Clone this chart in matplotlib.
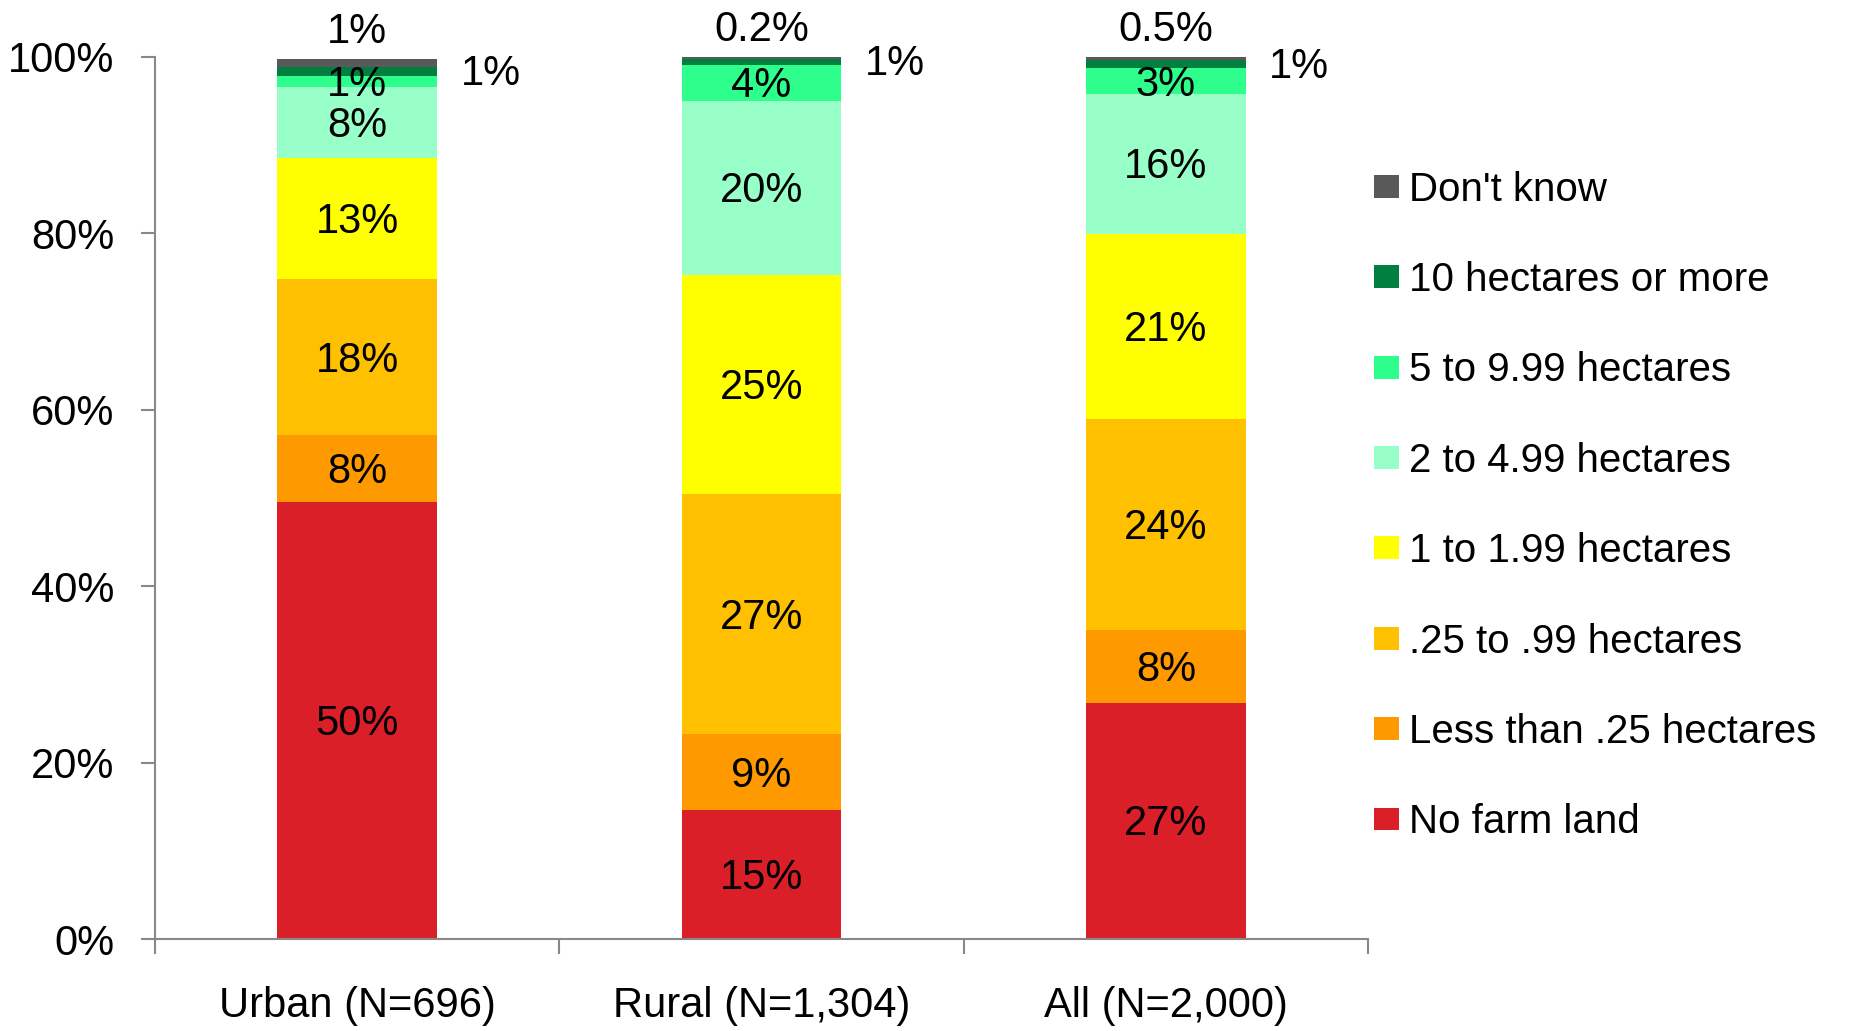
import numpy as np
import matplotlib.pyplot as plt

plt.rcParams['font.family'] = ['Liberation Sans', 'DejaVu Sans']

# groups on the x axis
groups = ['Urban (N=696)', 'Rural (N=1,304)', 'All (N=2,000)']

# series, bottom to top of each bar
series_names = ['No farm land', 'Less than .25 hectares', '.25 to .99 hectares',
                '1 to 1.99 hectares', '2 to 4.99 hectares', '5 to 9.99 hectares',
                '10 hectares or more', "Don't know"]
series_colors = ['#DA1F28', '#FF9900', '#FFC000', '#FFFF00',
                 '#99FFC8', '#2EFF8C', '#007F3F', '#595959']

# values (percent)
no_farm = [49.5, 14.6, 26.8]
lt_025 = [7.6, 8.6, 8.2]
ha_025_099 = [17.7, 27.2, 24.0]
ha_1_199 = [13.7, 24.9, 20.9]
ha_2_499 = [8.1, 19.7, 15.9]
ha_5_999 = [1.2, 4.1, 2.9]
ha_10_more = [1.1, 0.7, 0.9]
dont_know = [0.9, 0.2, 0.4]

# printed labels
lab_no_farm = ['50%', '15%', '27%']
lab_lt_025 = ['8%', '9%', '8%']
lab_025_099 = ['18%', '27%', '24%']
lab_1_199 = ['13%', '25%', '21%']
lab_2_499 = ['8%', '20%', '16%']
lab_5_999 = ['1%', '4%', '3%']
lab_10_more = ['1%', '1%', '1%']
lab_dont_know = ['1%', '0.2%', '0.5%']

values = [no_farm, lt_025, ha_025_099, ha_1_199, ha_2_499, ha_5_999, ha_10_more, dont_know]
labels = [lab_no_farm, lab_lt_025, lab_025_099, lab_1_199, lab_2_499, lab_5_999,
          lab_10_more, lab_dont_know]

fig = plt.figure(figsize=(18.54, 10.31), dpi=100)
ax = fig.add_axes([0.0836, 0.0892, 0.6543, 0.8557])

x = np.arange(len(groups))
width = 0.395
bottom = np.zeros(len(groups))
handles = []
for i, (vals, name, col) in enumerate(zip(values, series_names, series_colors)):
    vals = np.array(vals) / 100
    bars = ax.bar(x, vals, width, bottom=bottom, color=col, label=name, zorder=2)
    handles.append(bars)
    for j in range(len(groups)):
        cy = bottom[j] + vals[j] / 2
        if i == 6:
            # 10 hectares or more: label to the right of the bar
            ax.annotate(labels[i][j], (x[j] + width / 2, cy), xytext=(17, -2),
                        textcoords='offset points', ha='left', va='center', fontsize=30)
        elif i == 7:
            # don't know: label above the bar
            ax.annotate(labels[i][j], (x[j], bottom[j] + vals[j]), xytext=(0, 5),
                        textcoords='offset points', ha='center', va='bottom', fontsize=30)
        else:
            ax.annotate(labels[i][j], (x[j], cy), xytext=(0, -2.5),
                        textcoords='offset points', ha='center', va='center', fontsize=30)
    bottom += vals

ax.set_xlim(-0.5, 2.5)
ax.set_ylim(0, 1)
ax.set_yticks(np.arange(0, 1.01, 0.2))
ax.set_yticklabels([f'{int(round(t * 100))}%' for t in np.arange(0, 1.01, 0.2)])
ax.set_xticks(x)
ax.set_xticklabels(groups)
ax.set_xticks([-0.5, 0.5, 1.5, 2.5], minor=True)
ax.tick_params(axis='x', which='major', length=0, pad=34, labelsize=30)
ax.tick_params(axis='x', which='minor', length=11, width=1.5, color='#888888')
ax.tick_params(axis='y', length=10, width=1.5, color='#888888', pad=19, labelsize=30)

for s in ['top', 'right']:
    ax.spines[s].set_visible(False)
for s in ['left', 'bottom']:
    ax.spines[s].set_color('#888888')
    ax.spines[s].set_linewidth(1.5)
    ax.spines[s].set_zorder(3)

leg = fig.legend(handles[::-1], series_names[::-1], loc='upper left',
                 bbox_to_anchor=(0.7325, 0.85), frameon=False, fontsize=29,
                 handlelength=0.62, handleheight=0.5, handletextpad=0.25,
                 labelspacing=1.3, borderaxespad=0)

fig.savefig('out.png', dpi=100)
